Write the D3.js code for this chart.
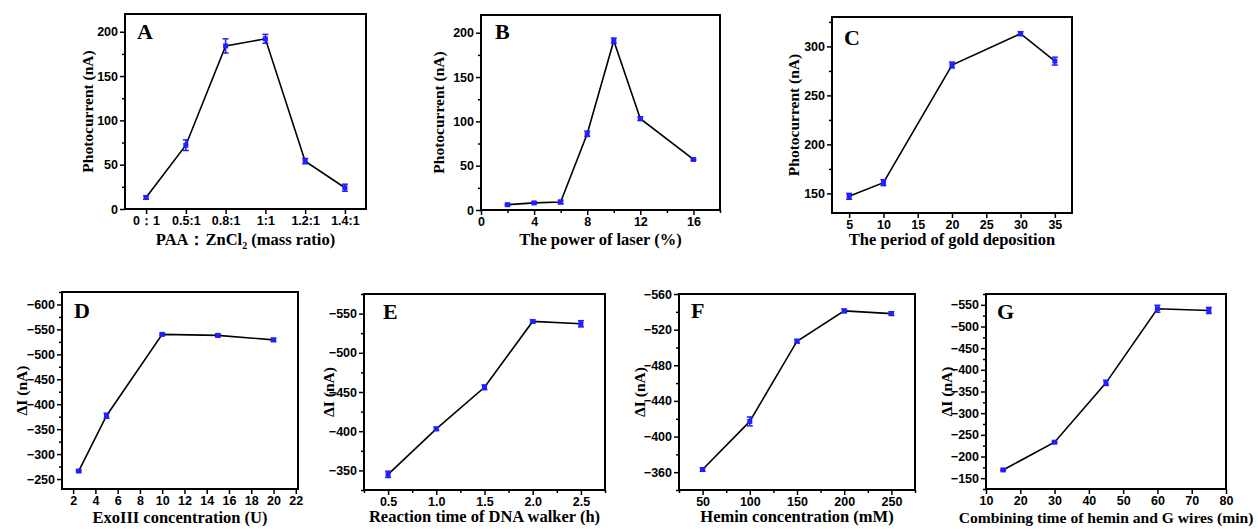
<!DOCTYPE html>
<html lang="en">
<head>
<meta charset="UTF-8" />
<title>Optimization of conditions</title>
<script src="https://d3js.org/d3.v7.min.js"></script>
<style>
    body { margin: 0; padding: 0; background: #fff; }
    svg { display: block; }
    .tick text {
        font-family: 'Liberation Sans', Arial, sans-serif;
        font-weight: bold;
        font-size: 12.5px;
        fill: #000;
    }
    .tick line { stroke: #000; stroke-width: 1.5px; }
    .title {
        font-family: 'Liberation Serif', 'Times New Roman', serif;
        font-weight: bold;
        font-size: 15.5px;
        fill: #000;
    }
    .title.xt { font-size: 16.5px; }
    .letter {
        font-family: 'Liberation Serif', 'Times New Roman', serif;
        font-weight: bold;
        font-size: 22px;
        fill: #000;
    }
</style>
</head>
<body>
<svg id="fig" width="1258" height="529"></svg>
<script>
// A: PAA : ZnCl2 mass ratio
const aLabels = ['0\uFF1A1', '0.5:1', '0.8:1', '1:1', '1.2:1', '1.4:1'];
const aVals = [13, 72, 184, 192, 54, 24];
const aErr = [2, 6, 8, 5, 3, 4];
// B: laser power
const bX = [2, 4, 6, 8, 10, 12, 16];
const bVals = [6, 8, 9, 86, 191, 103, 57];
const bErr = [1, 1, 2, 3, 3, 2, 1];
// C: gold deposition period
const cX = [5, 10, 20, 30, 35];
const cVals = [147, 161, 281, 313, 285];
const cErr = [3, 3, 3, 2, 4];
// D: ExoIII concentration
const dX = [2.5, 5, 10, 15, 20];
const dVals = [-266, -377, -540, -538, -529];
const dErr = [2, 5, 2, 3, 3];
// E: reaction time of DNA walker
const eX = [0.5, 1.0, 1.5, 2.0, 2.5];
const eVals = [-345, -403, -456, -540, -537];
const eErr = [4, 2, 3, 2, 4];
// F: hemin concentration
const fX = [50, 100, 150, 200, 250];
const fVals = [-363, -417, -507, -541, -538];
const fErr = [2, 5, 2, 2, 2];
// G: combining time of hemin and G wires
const gX = [15, 30, 45, 60, 75];
const gVals = [-169, -233, -370, -541, -537];
const gErr = [2, 2, 6, 8, 7];

const panels = [
    { letter: 'A', box: [125, 366, 14, 209], xDom: [-0.53, 5.53], yDom: [0, 220],
      xs: d3.range(aLabels.length), ys: aVals, err: aErr,
      xTicks: d3.range(aLabels.length), xFmt: (i) => aLabels[i], xMinor: false,
      yTicks: [0, 50, 100, 150, 200], yFmt: d3.format('d'),
      yTitle: 'Photocurrent (nA)', xTitle: 'ratio', yOff: 37, xBase: 245, lOff: [12, 25] },
    { letter: 'B', box: [481, 720, 15, 210], xDom: [0, 18], yDom: [0, 220],
      xs: bX, ys: bVals, err: bErr,
      xTicks: [0, 4, 8, 12, 16], xFmt: d3.format('d'), xMinor: true,
      yTicks: [0, 50, 100, 150, 200], yFmt: d3.format('d'),
      yTitle: 'Photocurrent (nA)', xTitle: 'The power of laser (%)', yOff: 42, xBase: 245, lOff: [14, 24] },
    { letter: 'C', box: [832, 1072, 17, 213], xDom: [2.5, 37.5], yDom: [130, 330],
      xs: cX, ys: cVals, err: cErr,
      xTicks: [5, 10, 15, 20, 25, 30, 35], xFmt: d3.format('d'), xMinor: false,
      yTicks: [150, 200, 250, 300], yFmt: d3.format('d'),
      yTitle: 'Photocurrent (nA)', xTitle: 'The period of gold deposition', yOff: 38, xBase: 245, lOff: [12, 28] },
    { letter: 'D', box: [62, 298, 292, 489], xDom: [1, 22.2], yDom: [-230, -625],
      xs: dX, ys: dVals, err: dErr,
      xTicks: d3.range(2, 23, 2), xFmt: d3.format('d'), xMinor: false,
      yTicks: d3.range(-250, -601, -50), yFmt: d3.format('d'),
      yTitle: '\u0394I (nA)', xTitle: 'ExoIII concentration (U)', yOff: 40, xBase: 523, lOff: [12, 26] },
    { letter: 'E', box: [364, 605, 294, 490], xDom: [0.25, 2.75], yDom: [-325, -575],
      xs: eX, ys: eVals, err: eErr,
      xTicks: [0.5, 1.0, 1.5, 2.0, 2.5], xFmt: d3.format('.1f'), xMinor: true,
      yTicks: d3.range(-350, -551, -50), yFmt: d3.format('d'),
      yTitle: '\u0394I (nA)', xTitle: 'Reaction time of DNA walker (h)', yOff: 35, xBase: 522, lOff: [19, 25] },
    { letter: 'F', box: [679, 915, 294, 490], xDom: [25, 275], yDom: [-340, -560],
      xs: fX, ys: fVals, err: fErr,
      xTicks: [50, 100, 150, 200, 250], xFmt: d3.format('d'), xMinor: true,
      yTicks: d3.range(-360, -561, -40), yFmt: d3.format('d'),
      yTitle: '\u0394I (nA)', xTitle: 'Hemin concentration (mM)', yOff: 39, xBase: 522, lOff: [12, 24] },
    { letter: 'G', box: [986, 1226, 294, 489], xDom: [10, 80], yDom: [-125, -575],
      xs: gX, ys: gVals, err: gErr,
      xTicks: d3.range(10, 81, 10), xFmt: d3.format('d'), xMinor: false,
      yTicks: d3.range(-150, -551, -50), yFmt: d3.format('d'),
      yTitle: '\u0394I (nA)', xTitle: 'Combining time of hemin and G wires (min)', yOff: 39, xBase: 523, lOff: [11, 25],
      xtSize: '15.6px' }
];

const svg = d3.select('#fig');
svg.append('rect').attr('width', 1258).attr('height', 529).attr('fill', '#fff');

const blue = '#1f1fff';

// midpoints between major ticks (plus one half step on each side if inside domain)
const halfTicks = (ticks, dom) => {
    const step = ticks[1] - ticks[0];
    const lo = Math.min(dom[0], dom[1]);
    const hi = Math.max(dom[0], dom[1]);
    const out = [];
    for (let i = -1; i < ticks.length; i++) {
        const v = ticks[0] + step * (i + 0.5);
        if (v >= lo - 1e-9 && v <= hi + 1e-9) out.push(v);
    }
    return out;
};

panels.forEach((p) => {
    const [x0, x1, y0, y1] = p.box;
    const x = d3.scaleLinear().domain(p.xDom).range([x0, x1]);
    const y = d3.scaleLinear().domain(p.yDom).range([y1, y0]);
    const g = svg.append('g');

    // minor ticks
    if (p.xMinor) {
        g.append('g')
            .attr('transform', `translate(0,${y1})`)
            .call(d3.axisBottom(x).tickValues(halfTicks(p.xTicks, p.xDom)).tickSize(3).tickFormat(''))
            .call((s) => s.select('.domain').remove());
    }
    g.append('g')
        .attr('transform', `translate(${x0},0)`)
        .call(d3.axisLeft(y).tickValues(halfTicks(p.yTicks, p.yDom)).tickSize(3).tickFormat(''))
        .call((s) => s.select('.domain').remove());

    // major axes
    g.append('g')
        .attr('transform', `translate(0,${y1})`)
        .call(d3.axisBottom(x).tickValues(p.xTicks).tickFormat(p.xFmt).tickSize(5).tickPadding(2))
        .call((s) => s.select('.domain').remove());
    g.append('g')
        .attr('transform', `translate(${x0},0)`)
        .call(d3.axisLeft(y).tickValues(p.yTicks).tickFormat(p.yFmt).tickSize(5).tickPadding(2))
        .call((s) => s.select('.domain').remove());

    // frame
    g.append('rect')
        .attr('x', x0).attr('y', y0)
        .attr('width', x1 - x0).attr('height', y1 - y0)
        .attr('fill', 'none').attr('stroke', '#000').attr('stroke-width', 2);

    const pts = p.xs.map((xv, i) => ({ x: xv, y: p.ys[i], e: p.err[i] }));

    g.append('path')
        .datum(pts)
        .attr('fill', 'none')
        .attr('stroke', '#000')
        .attr('stroke-width', 1.6)
        .attr('d', d3.line().x((d) => x(d.x)).y((d) => y(d.y)));

    const eb = g.selectAll('.eb').data(pts).enter().append('g').attr('class', 'eb');
    eb.append('line')
        .attr('x1', (d) => x(d.x)).attr('x2', (d) => x(d.x))
        .attr('y1', (d) => y(d.y - d.e)).attr('y2', (d) => y(d.y + d.e))
        .attr('stroke', blue).attr('stroke-width', 1.5);
    [-1, 1].forEach((s) => {
        eb.append('line')
            .attr('x1', (d) => x(d.x) - 3).attr('x2', (d) => x(d.x) + 3)
            .attr('y1', (d) => y(d.y + s * d.e)).attr('y2', (d) => y(d.y + s * d.e))
            .attr('stroke', blue).attr('stroke-width', 1.5);
    });
    eb.append('rect')
        .attr('x', (d) => x(d.x) - 2.5).attr('y', (d) => y(d.y) - 2.5)
        .attr('width', 5).attr('height', 5)
        .attr('fill', blue);

    // letter
    g.append('text').attr('class', 'letter')
        .attr('x', x0 + p.lOff[0]).attr('y', y0 + p.lOff[1])
        .text(p.letter);

    // y title
    g.append('text').attr('class', 'title')
        .attr('transform', `translate(${x0 - p.yOff},${(y0 + y1) / 2}) rotate(-90)`)
        .attr('text-anchor', 'middle')
        .attr('dy', '0.35em')
        .text(p.yTitle);

    // x title
    const xt = g.append('text').attr('class', 'title xt')
        .attr('x', (x0 + x1) / 2).attr('y', p.xBase)
        .attr('text-anchor', 'middle');
    if (p.xtSize) xt.style('font-size', p.xtSize);
    if (p.xTitle === 'ratio') {
        xt.append('tspan').text('PAA\uFF1AZnCl');
        xt.append('tspan').attr('font-size', '10px').attr('dy', 4).text('2');
        xt.append('tspan').attr('dy', -4).text(' (mass ratio)');
    } else {
        xt.text(p.xTitle);
    }
});
</script>
</body>
</html>
